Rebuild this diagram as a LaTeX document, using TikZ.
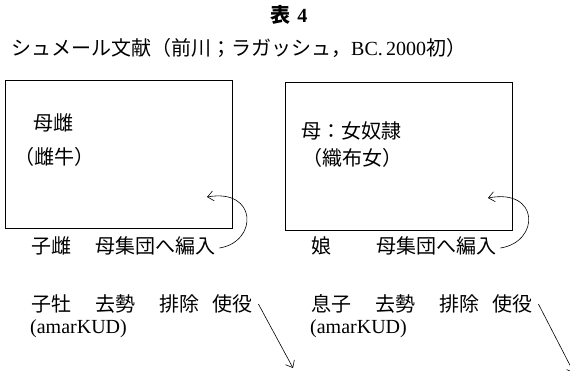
\documentclass[tikz,border=0pt]{standalone}
\usepackage{fontspec}
\usetikzlibrary{arrows.meta}
\setmainfont{Liberation Serif}
\newfontfamily\jp{Noto Sans CJK JP}
\tikzset{
  texto/.style={anchor=west, inner sep=0pt, font=\fontsize{20}{23}\selectfont\jp},
  caja/.style={line width=0.7pt},
  flecha/.style={-{Straight Barb[length=6pt,width=10pt]}, line width=0.6pt},
}
\begin{document}
\begin{tikzpicture}[x=1pt,y=-1pt]
    \useasboundingbox (0,0) rectangle (570,370);

    % Titulo
    \node[inner sep=0pt, font=\fontsize{20}{23}\selectfont\bfseries] (titulo) at (289,15) {{\jp 表}\,\,4};
    \node[texto] (fuente) at (11,48) {シュメール文献（前川；ラガッシュ，{\rmfamily BC.\,2000}初）};

    % Caja izquierda
    \draw[caja] (5,80) rectangle (232,228);
    \node[texto] (madre1) at (33,123) {母雌};
    \node[texto] (vaca) at (14,157) {（雌牛）};

    % Caja derecha
    \draw[caja] (285,82) rectangle (512,230);
    \node[texto] (madre2) at (301,131) {母：女奴隷};
    \node[texto] (tejedora) at (302,158) {（織布女）};

    % Hijas
    \node[texto] (hija1) at (31,246) {子雌};
    \node[texto] (incorp1) at (95,246) {母集団へ編入};
    \node[texto] (hija2) at (311,246) {娘};
    \node[texto] (incorp2) at (376,246) {母集団へ編入};
    \coordinate (dentro1) at (207,197);
    \coordinate (dentro2) at (488,198);
    \draw[flecha] ([xshift=4pt,yshift=-2pt]incorp1.east) .. controls (258,242) and (258,188) .. (dentro1);
    \draw[flecha] ([xshift=4pt,yshift=-2pt]incorp2.east) .. controls (540,242) and (540,188) .. (dentro2);

    % Hijos
    \node[texto] (hijo1) at (31,304) {子牡};
    \node[texto] (castra1) at (95,304) {去勢};
    \node[texto] (exclu1) at (159,304) {排除};
    \node[texto] (uso1) at (212,304) {使役};
    \node[texto, font=\fontsize{20}{23}\selectfont\rmfamily] (amar1) at (30,329) {(amarKUD)};
    \node[texto] (hijo2) at (311,304) {息子};
    \node[texto] (castra2) at (375,304) {去勢};
    \node[texto] (exclu2) at (439,304) {排除};
    \node[texto] (uso2) at (492,304) {使役};
    \node[texto, font=\fontsize{20}{23}\selectfont\rmfamily] (amar2) at (310,329) {(amarKUD)};
    \coordinate (abajo1) at (293,368);
    \coordinate (abajo2) at (574,373);
    \draw[flecha] ([xshift=6pt]uso1.east) -- (abajo1);
    \draw[flecha] ([xshift=6pt]uso2.east) -- (abajo2);
\end{tikzpicture}
\end{document}
